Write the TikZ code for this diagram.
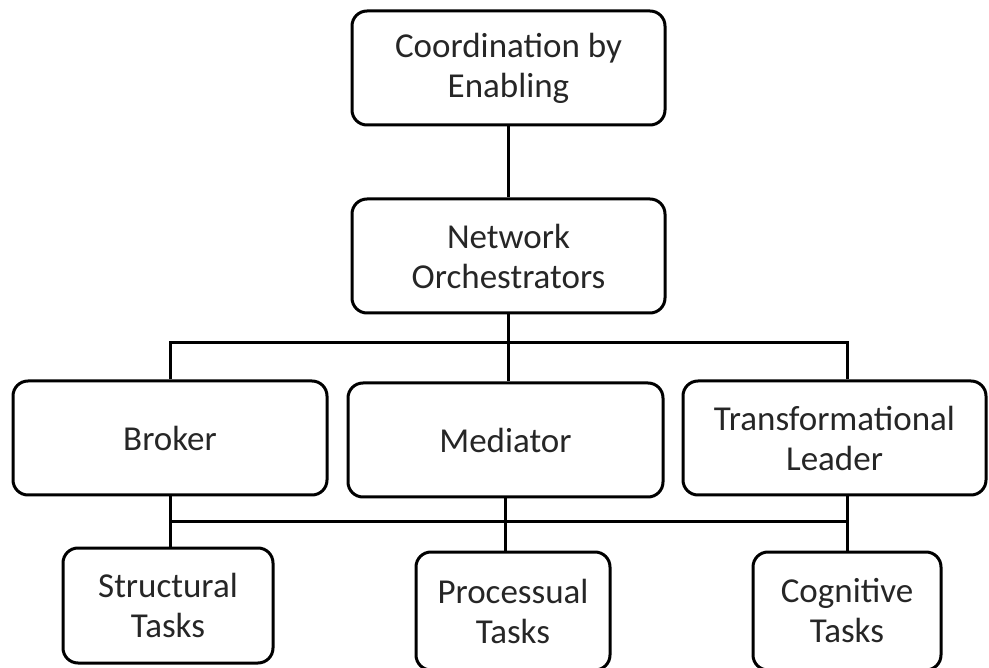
\documentclass[tikz,border=0pt]{standalone}
\usepackage{fontspec}
\setmainfont{Carlito}
\usetikzlibrary{positioning}
\tikzset{
	kasten/.style={draw, line width=3pt, rounded corners=15pt, align=center,
		minimum height=114pt, font=\fontsize{35}{40}\selectfont, text=black!85},
	linie/.style={line width=3pt}
}
\begin{document}
\begin{tikzpicture}[x=1pt, y=-1pt]
		\useasboundingbox (0,0) rectangle (989,668);
		\clip (0,0) rectangle (989,668);
		% Oberste Ebene
		\node[kasten, minimum width=313pt] (coord) at (508.5,68) {Coordination by\\Enabling};
		\node[kasten, minimum width=313pt] (orch) at (508.5,256) {Network\\Orchestrators};
		% Rollen
		\node[kasten, minimum width=314pt] (broker) at (170,438) {Broker};
		\node[kasten, minimum width=315pt] (mediator) at (505.5,440) {Mediator};
		\node[kasten, minimum width=303pt] (leader) at (834.5,438) {Transformational\\Leader};
		% Aufgaben
		\node[kasten, minimum width=210pt, minimum height=115pt] (structural) at (168,605.5) {Structural\\Tasks};
		\node[kasten, minimum width=194pt, minimum height=118pt] (processual) at (513,611) {Processual\\Tasks};
		\node[kasten, minimum width=188pt, minimum height=118pt] (cognitive) at (847,611) {Cognitive\\Tasks};
		% Verbindungen oben
		\coordinate (obus) at (847,343);
		\coordinate (ubus) at (847,521);
		\draw[linie] (coord) -- (orch);
		\draw[linie] (orch.south) -- (orch.south |- mediator.north);
		\draw[linie] (broker.north) |- (obus) -- (obus |- leader.north);
		% Verbindungen unten
		\draw[linie] (broker.south) -- (broker.south |- structural.north);
		\draw[linie] (broker.south |- ubus) -- (ubus);
		\draw[linie] (mediator.south) -- (mediator.south |- processual.north);
		\draw[linie] (ubus |- leader.south) -- (ubus |- cognitive.north);
	\end{tikzpicture}
\end{document}
